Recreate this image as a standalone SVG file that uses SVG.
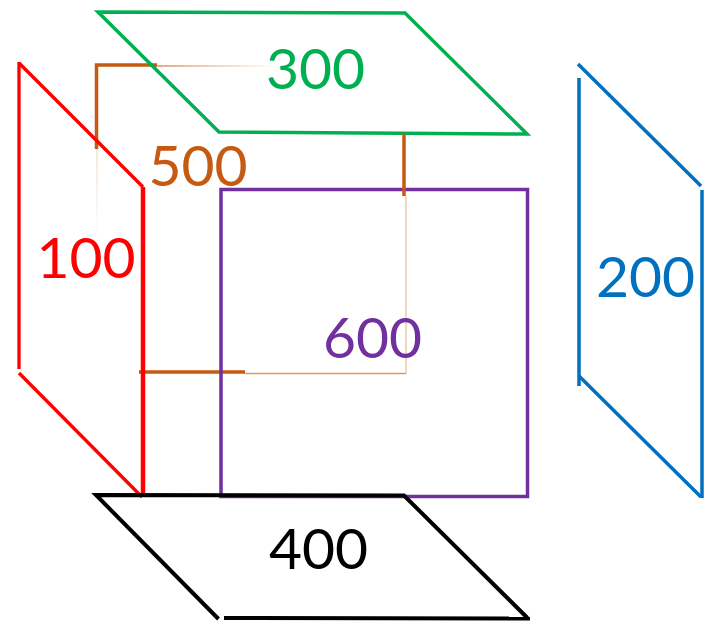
<svg xmlns="http://www.w3.org/2000/svg" width="704" height="622" viewBox="0 0 704 622">
<style>
  .lbl { font-family: Lato, "Liberation Sans", sans-serif; font-size: 57px; text-anchor: middle; }
  .ln { fill: none; stroke-linecap: butt; }
</style>
<defs>
  <linearGradient id="gTop" gradientUnits="userSpaceOnUse" x1="157" y1="0" x2="278" y2="0">
    <stop offset="0" stop-color="#D9905E"/>
    <stop offset="1" stop-color="#FFFFFF"/>
  </linearGradient>
  <linearGradient id="gLeft" gradientUnits="userSpaceOnUse" x1="0" y1="149" x2="0" y2="240">
    <stop offset="0" stop-color="#EED6C4"/>
    <stop offset="1" stop-color="#FFFFFF"/>
  </linearGradient>
</defs>
<rect width="704" height="622" fill="#ffffff"/>

<g id="node-500">
  <line class="ln" x1="157" y1="66" x2="278" y2="66" stroke="url(#gTop)" stroke-width="1.5"/>
  <line class="ln" x1="97" y1="149" x2="97" y2="240" stroke="url(#gLeft)" stroke-width="1.2"/>
  <line class="ln" x1="406" y1="196" x2="406" y2="373.5" stroke="#EEBE9C" stroke-width="1.3"/>
  <line class="ln" x1="245" y1="373.5" x2="406" y2="373.5" stroke="#E29660" stroke-width="1.3"/>
  <polyline class="ln" points="96.5,149 96.5,65 157,65" stroke="#C55A11" stroke-width="3.5"/>
  <line class="ln" x1="139" y1="372" x2="245" y2="372" stroke="#C55A11" stroke-width="3.5"/>
  <text class="lbl" x="198" y="186" fill="#C55A11">500</text>
</g>

<g id="node-100">
  <polyline class="ln" points="19,62 19,369" stroke="#FF0000" stroke-width="3.3"/>
  <line class="ln" x1="19" y1="63" x2="143" y2="187" stroke="#FF0000" stroke-width="3.3"/>
  <line class="ln" x1="143" y1="187" x2="143" y2="497" stroke="#FF0000" stroke-width="4.5"/>
  <line class="ln" x1="19" y1="373" x2="142" y2="497" stroke="#FF0000" stroke-width="3.3"/>
  <text class="lbl" x="86" y="278" fill="#FF0000">100</text>
</g>

<g id="node-300">
  <polygon class="ln" points="98,12 405,13 527,134 219,132" stroke="#00B050" stroke-width="3.5" stroke-linejoin="miter"/>
  <text class="lbl" x="315.5" y="89" fill="#00B050">300</text>
</g>

<g id="node-600">
  <rect class="ln" x="221" y="189.5" width="306.5" height="307" stroke="#7030A0" stroke-width="3.5"/>
  <text class="lbl" x="372.5" y="358" fill="#7030A0">600</text>
</g>

<g id="node-500-edge">
  <line class="ln" x1="404" y1="133" x2="404" y2="196" stroke="#C55A11" stroke-width="3.5"/>
</g>

<g id="node-200">
  <line class="ln" x1="579" y1="78" x2="579" y2="386" stroke="#0070C0" stroke-width="3.5"/>
  <line class="ln" x1="578" y1="64" x2="701" y2="186" stroke="#0070C0" stroke-width="3.5"/>
  <line class="ln" x1="702" y1="190" x2="702" y2="498" stroke="#0070C0" stroke-width="3.5"/>
  <line class="ln" x1="579" y1="376" x2="701" y2="497" stroke="#0070C0" stroke-width="3.5"/>
  <text class="lbl" x="645.5" y="297" fill="#0070C0">200</text>
</g>

<g id="node-400">
  <polyline class="ln" points="218.5,619 96,495 404,495.5 527.5,618" stroke="#000000" stroke-width="4" stroke-linejoin="miter"/>
  <line class="ln" x1="224" y1="618" x2="530" y2="618.5" stroke="#000000" stroke-width="4"/>
  <text class="lbl" x="318.5" y="569" fill="#000000">400</text>
</g>

<g id="connectors"></g>
</svg>
